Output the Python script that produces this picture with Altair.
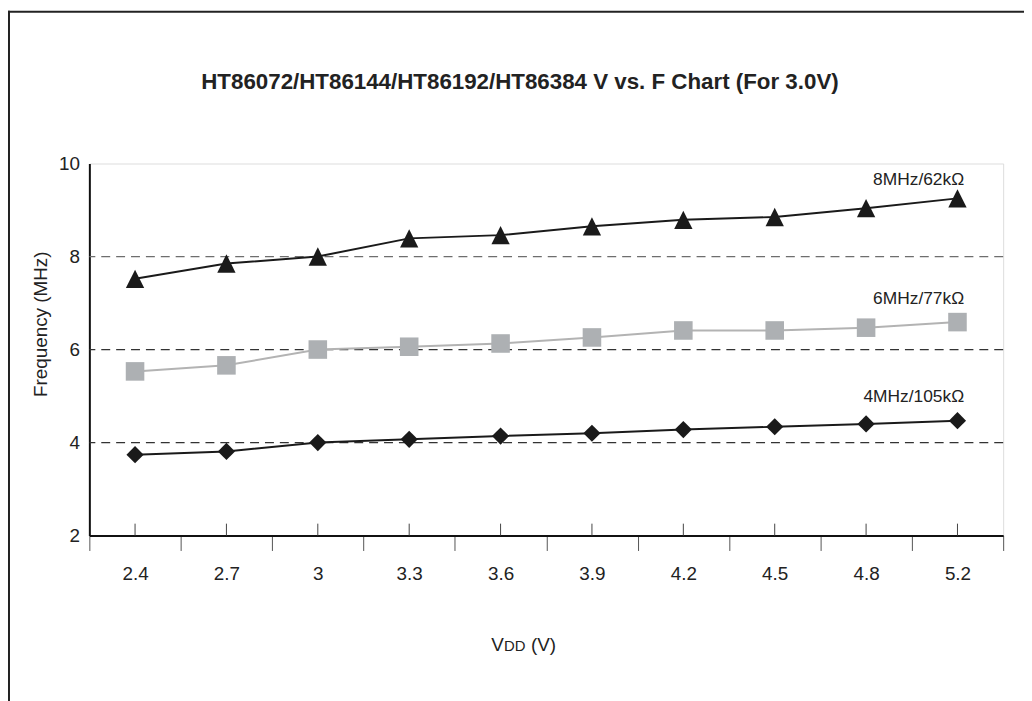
import altair as alt
import pandas as pd

# ---- data ----
vdd = ["2.4", "2.7", "3", "3.3", "3.6", "3.9", "4.2", "4.5", "4.8", "5.2"]
f_8mhz = [7.52, 7.85, 8.00, 8.39, 8.46, 8.65, 8.79, 8.85, 9.04, 9.25]
f_6mhz = [5.53, 5.66, 6.00, 6.06, 6.13, 6.26, 6.41, 6.41, 6.47, 6.59]
f_4mhz = [3.74, 3.81, 4.00, 4.07, 4.14, 4.20, 4.28, 4.34, 4.40, 4.47]
series_names = ["8MHz/62kΩ", "6MHz/77kΩ", "4MHz/105kΩ"]
y_ticks = [2, 4, 6, 8, 10]
grid_values = [4, 6, 8]
title_text = "HT86072/HT86144/HT86192/HT86384 V vs. F Chart (For 3.0V)"
y_title = "Frequency (MHz)"

W, H = 921, 375
FONT = "Liberation Sans"
TXT = "#222222"

def series_df(vals, name):
    return pd.DataFrame({"vdd": vdd, "freq": vals, "series": name})

df8 = series_df(f_8mhz, series_names[0])
df6 = series_df(f_6mhz, series_names[1])
df4 = series_df(f_4mhz, series_names[2])

x_axis = alt.Axis(
    title=None, labelAngle=0, tickBand="extent", tickSize=15, tickColor="#555555",
    tickWidth=1, domainColor="#111111", domainWidth=2, labelFont=FONT,
    labelFontSize=19, labelColor=TXT, labelPadding=14, grid=False,
)
y_axis = alt.Axis(
    title=None, values=y_ticks, tickSize=0, ticks=False, labelPadding=10,
    domainColor="#111111", domainWidth=2, labelFont=FONT, labelFontSize=19,
    labelColor=TXT, grid=False,
)
x_scale = alt.Scale(type="band", domain=vdd, paddingInner=0, paddingOuter=0)
y_scale = alt.Scale(domain=[2, 10], nice=False, zero=False)

def X():
    return alt.X("vdd:N", sort=vdd, scale=x_scale, axis=x_axis)

def Y():
    return alt.Y("freq:Q", scale=y_scale, axis=y_axis)

grid = alt.Chart(pd.DataFrame({"freq": grid_values})).mark_rule(
    strokeDash=[9, 6], strokeWidth=1.3
).encode(
    y=Y(),
    color=alt.condition(alt.datum.freq == 8, alt.value("#6e6e6e"), alt.value("#333333")),
)

inner_ticks = alt.Chart(pd.DataFrame({"vdd": vdd})).mark_rule(
    color="#444444", strokeWidth=1
).encode(x=X(), y=alt.value(H), y2=alt.value(H - 12))

def line(df, color):
    return alt.Chart(df).mark_line(color=color, strokeWidth=2).encode(x=X(), y=Y())

def pts(df, shape, size, color):
    return alt.Chart(df).mark_point(
        shape=shape, size=size, filled=True, fill=color, opacity=1, strokeWidth=0
    ).encode(x=X(), y=Y())

one = pd.DataFrame({"t": [""]})

def label(text, x, y, size=17.5, align="right", weight="normal", baseline="alphabetic", angle=0):
    return alt.Chart(pd.DataFrame({"t": [text]})).mark_text(
        font=FONT, fontSize=size, color=TXT, align=align, baseline=baseline,
        fontWeight=weight, angle=angle,
    ).encode(x=alt.value(x), y=alt.value(y), text="t:N")

labels = (
    label(series_names[0], 881.7, 22)
    + label(series_names[1], 881.7, 142)
    + label(series_names[2], 881.7, 240.7)
)

title = label(title_text, 434, -75.3, size=22.5, align="center", weight="bold")
ytitle = label(y_title, -48.3, 162, size=19, align="center", baseline="middle", angle=270)
xtitle = (
    label("V", 405, 491.3, size=19, align="left")
    + label("DD", 418, 491.3, size=15, align="left")
    + label("(V)", 445, 491.3, size=19, align="left")
)

frame_left = alt.Chart(one).mark_rule(color="#222222", strokeWidth=2).encode(
    x=alt.value(-81), y=alt.value(-154), y2=alt.value(H + 170)
)
frame_top = alt.Chart(one).mark_rule(color="#222222", strokeWidth=2).encode(
    x=alt.value(-82), x2=alt.value(W + 30), y=alt.value(-153)
)

chart = alt.layer(
    grid,
    inner_ticks,
    line(df8, "#1a1a1a"),
    line(df6, "#b3b3b3"),
    line(df4, "#1a1a1a"),
    pts(df8, "M-1,1L1,1L0,-1Z", 340, "#1a1a1a"),
    pts(df6, "square", 350, "#adb0b3"),
    pts(df4, "diamond", 300, "#1a1a1a"),
    labels,
    title,
    ytitle,
    xtitle,
    frame_left,
    frame_top,
).properties(
    width=W, height=H,
    autosize=alt.AutoSizeParams(type="none"),
    padding={"left": 82, "top": 154, "right": 21, "bottom": 164},
).configure_view(
    stroke="#111111", strokeWidth=2
).configure(background="white")

chart.save("out.html", embed_options={"renderer": "svg", "actions": False})
